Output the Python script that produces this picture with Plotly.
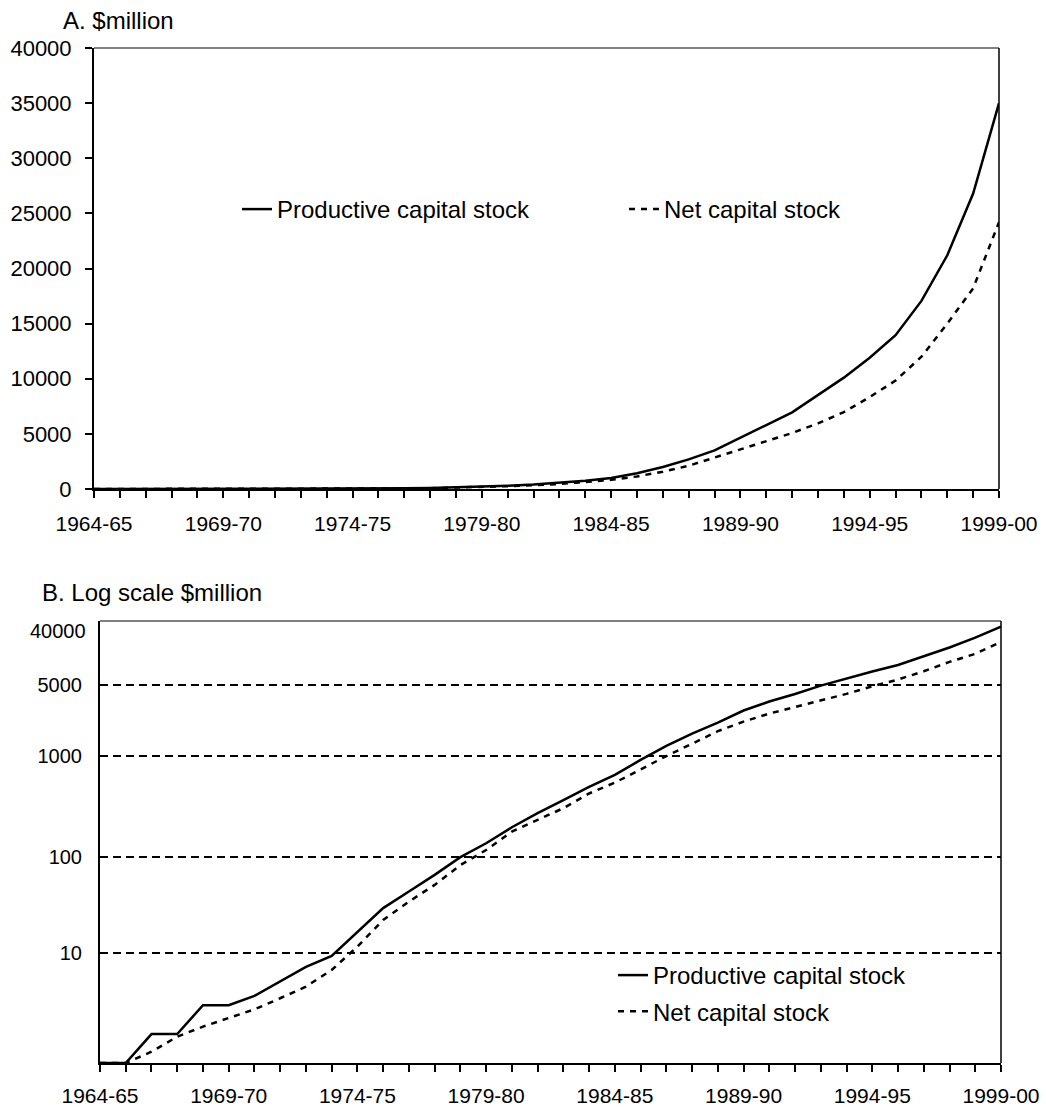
import math
import plotly.graph_objects as go

W, H = 1046, 1107
FONT = "Liberation Sans, Arial, sans-serif"

# ---- data ----
years = [f"{y}-{str(y + 1)[-2:]}" for y in range(1964, 2000)]
year_labels = [lab if i % 5 == 0 else "" for i, lab in enumerate(years)]

productive = [1, 1, 2, 2, 4, 4, 5, 7, 10, 13,
              23, 41, 61, 91, 139, 194, 285, 400, 547, 750,
              1000, 1430, 2000, 2690, 3500, 4680, 5800, 6950, 8500, 10100,
              11900, 13950, 17060, 21200, 26800, 35000]
net = [1, 1, 1.31, 1.88, 2.39, 2.92, 3.62, 4.72, 6.24, 9.3,
       16.3, 30.9, 47.9, 71.5, 115, 165, 257, 340, 450, 640,
       830, 1140, 1570, 2110, 2850, 3580, 4350, 5080, 5950, 6975,
       8340, 9830, 12000, 15000, 18200, 24200]

series_names = ["Productive capital stock", "Net capital stock"]

# panel A axis
a_range = [0, 40000]
a_dtick = 5000

# panel B (log) axis: range and labelled gridlines as placed in the reference
b_range = [1, 40000]
b_grid_vals = [14, 140, 1573, 8630]
b_grid_text = ["10", "100", "1000", "5000"]
b_top_val = 31480
b_top_text = "40000"

titles = ["A. $million", "B. Log scale $million"]

# ---- figure ----
fig = go.Figure()
styles = [dict(color="black", width=2.5), dict(color="black", width=2.5, dash="6px,6px")]
for name, vals, st in zip(series_names, [productive, net], styles):
    fig.add_trace(go.Scatter(x=years, y=vals, name=name, mode="lines", line=st,
                             xaxis="x", yaxis="y", legend="legend"))
for name, vals, st in zip(series_names, [productive, net], styles):
    fig.add_trace(go.Scatter(x=years, y=vals, name=name, mode="lines", line=st,
                             xaxis="x2", yaxis="y2", legend="legend2", legendgroup=name))

tickfont = dict(family=FONT, size=21, color="black")
xcommon = dict(type="category", range=[0, len(years) - 1], tickmode="array",
               tickvals=years, ticktext=year_labels, ticks="outside", ticklen=7,
               tickwidth=1.5, tickcolor="black", showline=True, linecolor="black",
               linewidth=2, showgrid=False, zeroline=False, tickfont=tickfont,
               automargin=False, fixedrange=True)

fig.update_layout(
    width=W, height=H,
    margin=dict(l=0, r=0, t=0, b=0, autoexpand=False),
    paper_bgcolor="white", plot_bgcolor="white",
    font=dict(family=FONT, color="black"),
    xaxis=dict(domain=[94 / W, 999 / W], anchor="y", ticklabelstandoff=8, **xcommon),
    yaxis=dict(domain=[1 - 489 / H, 1 - 48 / H], anchor="x", range=a_range,
               tickmode="linear", tick0=0, dtick=a_dtick, tickformat="d",
               ticks="outside", ticklen=7, tickwidth=1.5, tickcolor="black",
               showline=True, linecolor="black", linewidth=2, showgrid=False,
               zeroline=False, tickfont=dict(family=FONT, size=22, color="black"),
               ticklabelstandoff=9, automargin=False, fixedrange=True),
    xaxis2=dict(domain=[100 / W, 1001 / W], anchor="y2", ticklabelstandoff=6, **xcommon),
    yaxis2=dict(domain=[1 - 1063 / H, 1 - 621 / H], anchor="x2", type="log",
                range=[math.log10(b_range[0]), math.log10(b_range[1])],
                tickmode="array", tickvals=b_grid_vals, ticktext=b_grid_text,
                ticks="", showline=True, linecolor="black", linewidth=2,
                showgrid=True, gridcolor="black", gridwidth=1.5, griddash="8px,5px",
                zeroline=False, tickfont=dict(family=FONT, size=20, color="black"),
                ticklabelstandoff=12, automargin=False, fixedrange=True),
    legend=dict(orientation="h", x=237 / W, y=1 - 187 / H, xanchor="left", yanchor="top",
                font=dict(family=FONT, size=24, color="black"), bgcolor="rgba(0,0,0,0)",
                entrywidth=342, entrywidthmode="pixels"),
    legend2=dict(orientation="v", x=613 / W, y=1 - 953 / H, xanchor="left", yanchor="top",
                 font=dict(family=FONT, size=24, color="black"), bgcolor="rgba(0,0,0,0)",
                 tracegroupgap=2),
    showlegend=True,
)

# frame: grey top edge, thin black right edge
for xr, yr in [("x", "y"), ("x2", "y2")]:
    fig.add_shape(type="line", xref=f"{xr} domain", yref=f"{yr} domain",
                  x0=0, x1=1, y0=1, y1=1, line=dict(color="#808080", width=2))
    fig.add_shape(type="line", xref=f"{xr} domain", yref=f"{yr} domain",
                  x0=1, x1=1, y0=0, y1=1, line=dict(color="black", width=1.5))

# panel titles
fig.add_annotation(text=titles[0], xref="paper", yref="paper", x=61 / W, y=1 - 21 / H,
                   xanchor="left", yanchor="middle", showarrow=False,
                   font=dict(family=FONT, size=24, color="black"))
fig.add_annotation(text=titles[1], xref="paper", yref="paper", x=40 / W, y=1 - 592 / H,
                   xanchor="left", yanchor="middle", showarrow=False,
                   font=dict(family=FONT, size=24, color="black"))
# top label of the log panel
fig.add_annotation(text=b_top_text, xref="x2 domain", yref="y2", x=0, y=math.log10(b_top_val),
                   xanchor="right", yanchor="middle", xshift=-12, showarrow=False,
                   font=dict(family=FONT, size=20, color="black"))

fig.write_html("out.html", config={"displayModeBar": False},
               post_script="document.body.style.margin='0';")
